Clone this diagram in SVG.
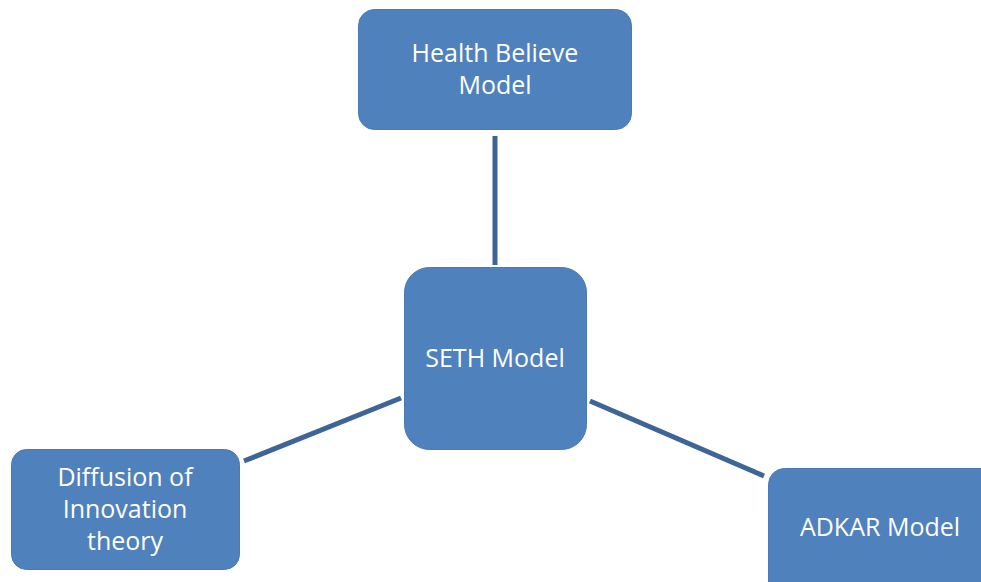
<svg xmlns="http://www.w3.org/2000/svg" width="981" height="582" viewBox="0 0 981 582">
<style>
.box{fill:#4f81bd;stroke:#4a7ab4;stroke-width:1}
.t{font-family:"Open Sans","Liberation Sans",sans-serif;font-size:25px;fill:#ffffff;text-anchor:middle}
.c{stroke:#3d6595;stroke-width:5;fill:none}
</style>
<rect width="981" height="582" fill="#ffffff"/>
<g id="connectors">
<line class="c" x1="495" y1="136" x2="495" y2="265"/>
<line class="c" x1="244" y1="461" x2="401" y2="398"/>
<line class="c" x1="590" y1="401" x2="764" y2="476"/>
</g>
<g id="health">
<rect class="box" x="358.5" y="9.5" width="273" height="120" rx="16"/>
<text class="t" x="495" y="62">Health Believe</text>
<text class="t" x="495" y="94">Model</text>
</g>
<g id="seth">
<rect class="box" x="404.5" y="267.5" width="182" height="182" rx="25"/>
<text class="t" x="495" y="367">SETH Model</text>
</g>
<g id="diffusion">
<rect class="box" x="11.5" y="449.5" width="228" height="120" rx="15"/>
<text class="t" x="125" y="486">Diffusion of</text>
<text class="t" x="125" y="518">Innovation</text>
<text class="t" x="125" y="550">theory</text>
</g>
<g id="adkar">
<rect class="box" x="768.5" y="468.5" width="230" height="130" rx="16"/>
<text class="t" x="880" y="536">ADKAR Model</text>
</g>
</svg>
